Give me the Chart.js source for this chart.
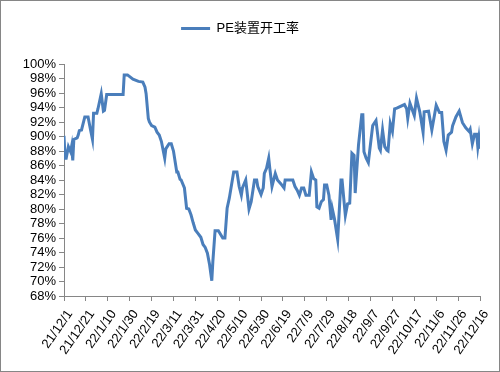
<!DOCTYPE html>
<html>
<head>
<meta charset="utf-8">
<script src="https://cdn.jsdelivr.net/npm/chart.js@4.4.0/dist/chart.umd.min.js"></script>
<style>
  body { margin: 0; background: #fff; }
  #wrap { width: 500px; height: 372px; position: relative; }
</style>
</head>
<body>
<div id="wrap"><canvas id="chart"></canvas></div>
<script>
// days since 2021-12-01 and PE plant operating rate (%)
const days = [0,1,2,4,6,7,8,9,12,13,14,16,19,22,24,26,27,30,31,34,36,37,39,54,55,58,63,68,72,74,75,77,78,80,83,85,87,89,92,93,96,98,100,103,104,106,107,110,112,114,116,118,120,122,125,127,129,131,133,135,136,138,141,145,147,149,151,155,158,160,162,163,166,169,171,174,176,177,180,182,183,185,187,188,190,193,195,198,201,202,209,211,213,215,217,219,221,224,226,228,230,231,233,235,237,238,240,242,244,245,247,250,253,254,257,259,261,263,265,266,269,272,273,274,276,278,280,282,285,288,289,291,293,295,296,298,300,302,304,311,313,314,316,320,322,325,328,329,333,336,340,343,345,347,349,351,354,355,358,361,364,367,370,371,373,375,377,378,379,380];
const rates = [90.1,87.0,87.0,88.6,87.9,88.7,86.7,89.6,89.8,90.2,90.8,90.9,92.7,92.7,91.1,89.6,93.2,93.2,93.8,95.9,93.5,93.6,95.8,95.8,98.5,98.5,97.9,97.6,97.5,96.8,95.9,92.5,92.0,91.5,91.3,90.6,90.2,89.3,87.0,88.3,89.0,89.0,88.0,85.1,85.1,84.1,84.0,82.9,80.1,80.0,79.2,78.1,77.1,76.7,76.1,75.1,74.7,73.9,72.3,70.1,72.8,77.0,77.0,76.0,76.0,80.1,81.5,85.1,85.1,83.1,81.9,82.9,84.0,80.0,81.0,84.0,84.0,83.1,82.0,82.9,84.9,85.6,87.0,85.6,83.1,84.9,84.0,83.5,82.9,84.0,84.0,83.1,82.6,81.9,82.9,82.9,81.9,81.9,85.1,84.2,84.0,80.3,80.1,81.0,81.3,83.3,83.3,81.9,78.5,80.1,78.7,75.8,84.0,84.0,79.1,80.7,80.8,87.7,87.4,82.2,88.8,93.0,93.0,87.9,87.0,86.4,89.0,91.5,92.2,88.4,88.1,90.9,88.6,88.1,88.0,91.8,90.7,93.8,93.9,94.4,93.8,92.5,94.6,92.9,95.3,93.4,90.6,93.4,93.5,90.9,94.3,93.3,93.3,89.3,88.1,90.2,90.6,91.5,92.7,93.5,91.9,91.2,90.7,91.0,89.0,90.3,90.3,88.6,89.8,88.3];
const tickLabels = ['21/12/1','21/12/21','22/1/10','22/1/30','22/2/19','22/3/11','22/3/31','22/4/20','22/5/10','22/5/30','22/6/19','22/7/9','22/7/29','22/8/18','22/9/7','22/9/27','22/10/17','22/11/6','22/11/26','22/12/16'];

const FONT = '"Liberation Sans", "Noto Sans CJK SC", sans-serif';
const AXIS = '#868686';

// outer frame + some extra room under the legend
const frame = {
  id: 'frame',
  beforeInit(chart) {
    const lg = chart.legend;
    if (!lg) return;
    const fit = lg.fit;
    lg.fit = function () { fit.call(this); this.height += 19; };
  },
  afterDraw(chart) {
    const ctx = chart.ctx;
    ctx.save();
    ctx.strokeStyle = '#868686';
    ctx.lineWidth = 1;
    ctx.strokeRect(0.5, 0.5, chart.width - 1, chart.height - 1);
    ctx.restore();
  }
};

new Chart(document.getElementById('chart'), {
  type: 'line',
  data: {
    datasets: [{
      label: 'PE装置开工率',
      data: days.map((d, i) => ({ x: d, y: rates[i] })),
      borderColor: '#4a7ebb',
      backgroundColor: '#4a7ebb',
      borderWidth: 3,
      pointRadius: 0,
      tension: 0
    }]
  },
  options: {
    responsive: true,
    maintainAspectRatio: false,
    animation: false,
    layout: { padding: { left: 0, right: 20, top: 10, bottom: 0 } },
    plugins: {
      tooltip: { enabled: false },
      legend: {
        position: 'top',
        labels: {
          color: '#000',
          font: { family: FONT, size: 13 },
          usePointStyle: true,
          pointStyle: 'line',
          pointStyleWidth: 29,
          boxHeight: 13,
          padding: 12
        }
      }
    },
    scales: {
      x: {
        type: 'linear',
        min: 0,
        max: 380,
        border: { color: AXIS, width: 1 },
        grid: { drawOnChartArea: false, color: AXIS, tickLength: 5 },
        ticks: {
          stepSize: 20,
          autoSkip: false,
          maxRotation: 55,
          minRotation: 55,
          labelOffset: 6,
          padding: 6,
          color: '#000',
          font: { family: FONT, size: 13 },
          callback: v => tickLabels[Math.round(v / 20)]
        },
        afterFit: s => { s.height = 76; }
      },
      y: {
        min: 68,
        max: 100,
        border: { color: AXIS, width: 1 },
        grid: { drawOnChartArea: false, color: AXIS, tickLength: 5 },
        ticks: {
          stepSize: 2,
          autoSkip: false,
          color: '#000',
          font: { family: FONT, size: 13 },
          callback: v => v + '%'
        },
        afterFit: s => { s.width = 64; }
      }
    }
  },
  plugins: [frame]
});
</script>
</body>
</html>
